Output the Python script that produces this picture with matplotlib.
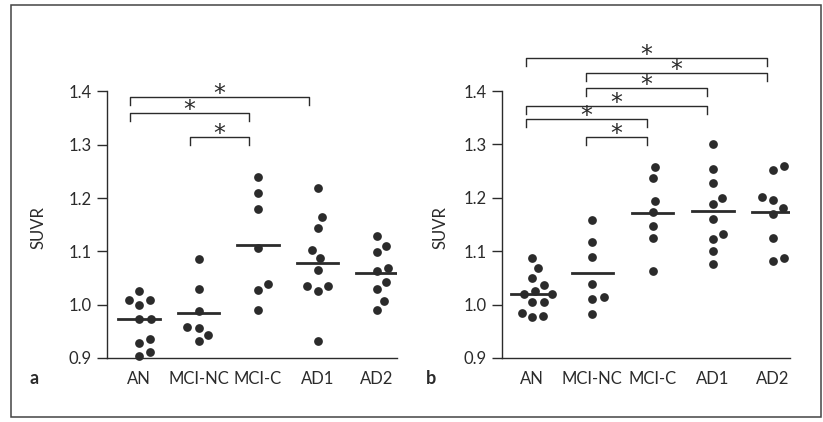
import numpy as np
import matplotlib.pyplot as plt
from matplotlib.patches import Rectangle

plt.rcParams['font.family'] = ['Lato', 'DejaVu Sans']

groups = ["AN", "MCI-NC", "MCI-C", "AD1", "AD2"]

# panel a
a_an = [1.025, 1.009, 1.008, 1.000, 0.974, 0.974, 0.935, 0.928, 0.911, 0.904]
a_mcinc = [1.085, 1.029, 0.988, 0.959, 0.957, 0.943, 0.931]
a_mcic = [1.240, 1.210, 1.180, 1.107, 1.038, 1.027, 0.990]
a_ad1 = [1.219, 1.164, 1.144, 1.102, 1.087, 1.066, 1.035, 1.035, 1.026, 0.932]
a_ad2 = [1.129, 1.111, 1.098, 1.068, 1.063, 1.043, 1.029, 1.007, 0.990]
a_means = [0.974, 0.984, 1.112, 1.079, 1.060]
a_pairs = [(0, 3), (0, 2), (1, 2)]
a_levels = [1.390, 1.360, 1.314]

# panel b
b_an = [1.088, 1.068, 1.049, 1.037, 1.025, 1.020, 1.019, 1.005, 1.004,
        0.985, 0.979, 0.976]
b_mcinc = [1.158, 1.118, 1.090, 1.038, 1.015, 1.010, 0.982]
b_mcic = [1.258, 1.237, 1.194, 1.173, 1.147, 1.124, 1.063]
b_ad1 = [1.300, 1.253, 1.227, 1.200, 1.188, 1.160, 1.132, 1.123, 1.101, 1.076]
b_ad2 = [1.260, 1.252, 1.202, 1.196, 1.181, 1.169, 1.124, 1.087, 1.082]
b_means = [1.020, 1.059, 1.171, 1.175, 1.173]
b_pairs = [(0, 4), (1, 4), (1, 3), (0, 3), (0, 2), (1, 2)]
b_levels = [1.461, 1.434, 1.405, 1.372, 1.348, 1.314]

yticks = [0.9, 1.0, 1.1, 1.2, 1.3, 1.4]
ink = "#2b2b2b"


def swarm(ax, x0, vals, d=11.5):
    # simple beeswarm, done in display pixels
    pts = ax.transData.transform(np.column_stack([np.full(len(vals), x0), vals]))
    placed = []
    xs = np.zeros(len(vals))
    for k in np.argsort(vals):
        y = pts[k, 1]
        cands = [0.0]
        for px, py in placed:
            dy = y - py
            if abs(dy) < d:
                dx = np.sqrt(d * d - dy * dy)
                cands += [px + dx, px - dx]
        cands.sort(key=abs)
        for c in cands:
            if all((c - px) ** 2 + (y - py) ** 2 >= d * d - 1e-6 for px, py in placed):
                break
        placed.append((c, y))
        xs[k] = c
    disp = np.column_stack([pts[:, 0] + xs, pts[:, 1]])
    return ax.transData.inverted().transform(disp)[:, 0]


def panel(rect, xlim, data, means, pairs, levels, shift):
    ax = fig.add_axes(rect)
    ax.set_xlim(xlim)
    ax.set_ylim(0.9, 1.4)
    pos = np.arange(1, len(groups) + 1)
    for p, vals, m in zip(pos, data, means):
        xs = swarm(ax, p, vals)
        ax.plot(xs, vals, "o", color=ink, ms=6.3, mew=0, clip_on=False, zorder=3)
        ax.plot([p - 0.345, p + 0.345], [m, m], color=ink, lw=2, zorder=4)
    for (i, j), lev in zip(pairs, levels):
        xl, xr = pos[i] + shift, pos[j] + shift
        ax.plot([xl, xl, xr, xr], [lev - 0.015, lev, lev, lev - 0.015],
                color=ink, lw=1, clip_on=False)
        ax.text((xl + xr) / 2, lev - 0.007, "*", ha="center", va="baseline",
                fontsize=17, color=ink, family="DejaVu Sans", clip_on=False)
    ax.set_xticks(pos)
    ax.set_xticklabels(groups)
    ax.set_yticks(yticks)
    ax.set_yticklabels(["%.1f" % t for t in yticks])
    ax.tick_params(axis="y", direction="out", length=7, width=1, pad=4,
                   labelsize=12, colors=ink)
    ax.tick_params(axis="x", length=0, pad=9, labelsize=12, colors=ink)
    for s in ["top", "right"]:
        ax.spines[s].set_visible(False)
    ax.spines["left"].set_bounds(0.9, 1.4)
    for s in ["left", "bottom"]:
        ax.spines[s].set_color(ink)
        ax.spines[s].set_linewidth(1)
    ax.patch.set_alpha(0)
    return ax


fig = plt.figure(figsize=(8.23, 4.22), dpi=100)
W, H = 823.0, 422.0

panel([107 / W, 1 - 358 / H, 290 / W, 266.5 / H], (0.462, 5.336),
      [a_an, a_mcinc, a_mcic, a_ad1, a_ad2], a_means, a_pairs, a_levels, -0.15)
panel([502 / W, 1 - 358 / H, 288 / W, 267 / H], (0.5, 5.283),
      [b_an, b_mcinc, b_mcic, b_ad1, b_ad2], b_means, b_pairs, b_levels, -0.1)

fig.text(38 / W, 1 - 228 / H, "SUVR", rotation=90, ha="center", va="center",
         fontsize=12, color=ink)
fig.text(440 / W, 1 - 228 / H, "SUVR", rotation=90, ha="center", va="center",
         fontsize=12, color=ink)
fig.text(34 / W, 1 - 378 / H, "a", ha="center", va="center", fontsize=13,
         fontweight="bold", color=ink)
fig.text(431 / W, 1 - 378 / H, "b", ha="center", va="center", fontsize=13,
         fontweight="bold", color=ink)

fig.patches.append(Rectangle((11 / W, 1 - 417 / H), 810 / W, 412 / H,
                             transform=fig.transFigure, fill=False,
                             edgecolor="#444444", lw=1.1))

fig.savefig("out.png", dpi=100)
plt.close()
